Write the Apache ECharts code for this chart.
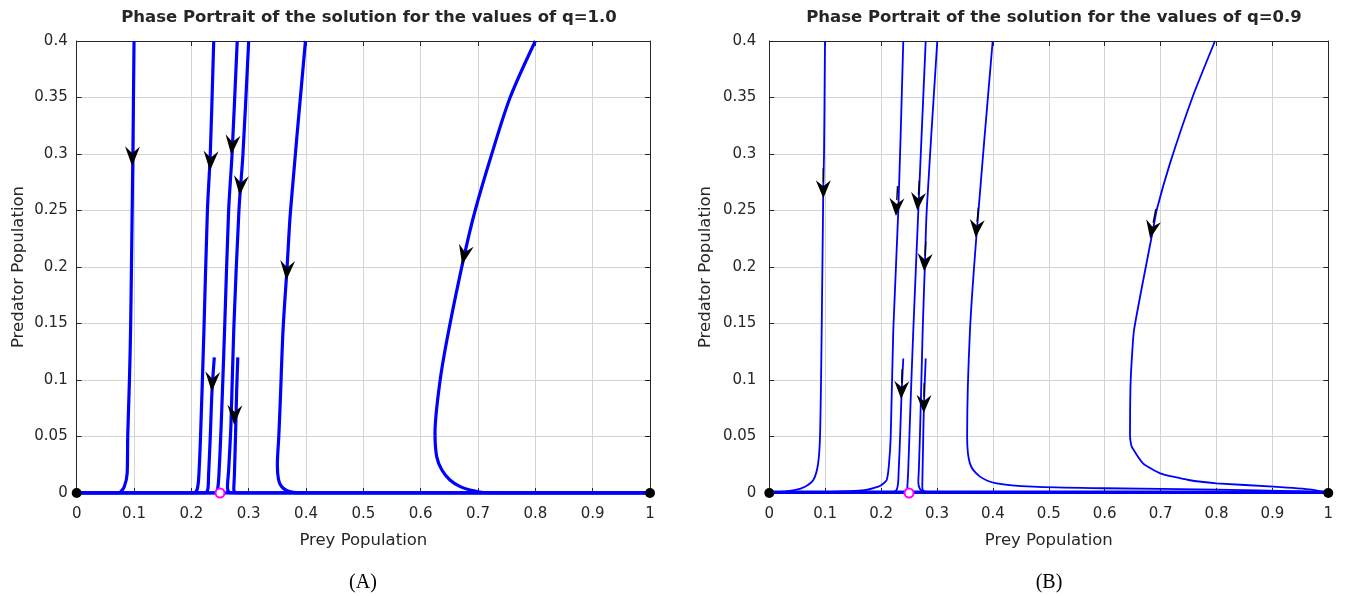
<!DOCTYPE html>
<html>
<head>
<meta charset="utf-8">
<script src="https://cdn.jsdelivr.net/npm/echarts@6/dist/echarts.min.js"></script>
<style>
html,body{margin:0;padding:0;background:#fff;}
#chart{width:1346px;height:596px;}
</style>
</head>
<body>
<div id="chart"></div>
<script>
// ---------- tick labels ----------
const xTicks = ['0','0.1','0.2','0.3','0.4','0.5','0.6','0.7','0.8','0.9','1'];
const yTicks = ['0','0.05','0.1','0.15','0.2','0.25','0.3','0.35','0.4'];
const titles = ['Phase Portrait of the solution for the values of q=1.0',
                'Phase Portrait of the solution for the values of q=0.9'];
const panelLabels = ['(A)', '(B)'];

// ---------- panel A (q = 1.0) trajectories [prey, predator] ----------
const a_traj1 = [[0.100,0.40],[0.098,0.30],[0.096,0.22],[0.094,0.145],[0.092,0.10],[0.089,0.05],[0.088,0.017],[0.083,0.0056],[0.077,0.0012],[0.072,0],[0,0]];
const a_traj2 = [[0.239,0.40],[0.233,0.30],[0.228,0.25],[0.222,0.145],[0.216,0.05],[0.213,0.015],[0.211,0.005],[0.208,0.001],[0.203,0],[0,0]];
const a_traj3 = [[0.240,0.12],[0.236,0.09],[0.233,0.05],[0.230,0.015],[0.229,0.004],[0.226,0.0005],[0.220,0],[0,0]];
const a_traj4 = [[0.280,0.40],[0.271,0.30],[0.265,0.25],[0.258,0.145],[0.252,0.06],[0.248,0.015],[0.246,0.004],[0.244,0.0005],[0.240,0],[0,0]];
const a_traj5 = [[0.300,0.40],[0.290,0.30],[0.283,0.25],[0.274,0.145],[0.269,0.06],[0.265,0.02],[0.263,0.005],[0.265,0.001],[0.272,0],[1,0]];
const a_traj6 = [[0.281,0.12],[0.279,0.09],[0.277,0.05],[0.275,0.015],[0.274,0.003],[0.276,0.0005],[0.280,0],[1,0]];
const a_traj7 = [[0.399,0.40],[0.373,0.25],[0.367,0.20],[0.360,0.145],[0.355,0.08],[0.3525,0.05],[0.350,0.025],[0.352,0.012],[0.357,0.006],[0.366,0.0022],[0.378,0.0005],[0.400,0],[1,0]];
const a_traj8 = [[0.800,0.40],[0.756,0.35],[0.724,0.30],[0.695,0.25],[0.676,0.21],[0.649,0.144],[0.634,0.10],[0.625,0.053],[0.628,0.032],[0.637,0.0204],[0.651,0.0115],[0.669,0.0056],[0.686,0.0027],[0.715,0.0003],[0.780,0],[1,0]];
const a_axisFlow = [[0,0],[1,0]];
// arrows: [prey, predator, tilt in degrees]
const a_arrows = [[0.097,0.298,-1],[0.2334,0.294,-3],[0.2712,0.308,-5],[0.2857,0.272,-5],[0.2364,0.0985,-3],[0.2753,0.069,-2],[0.3668,0.197,-4],[0.676,0.2106,-12]];

// ---------- panel B (q = 0.9) trajectories ----------
const b_traj1 = [[0.0996,0.40],[0.0979,0.30],[0.0966,0.27],[0.0937,0.144],[0.0907,0.05],[0.0870,0.025],[0.0787,0.0115],[0.0639,0.0056],[0.0450,0.0025],[0.0245,0.0012],[0.010,0.0004],[0,0]];
const b_traj2 = [[0.2397,0.40],[0.2308,0.25],[0.2218,0.144],[0.2172,0.05],[0.2140,0.025],[0.2100,0.0115],[0.2030,0.008],[0.1950,0.0056],[0.1700,0.0025],[0.1000,0.0009],[0,0]];
const b_traj3 = [[0.2397,0.119],[0.2368,0.09],[0.2340,0.05],[0.2315,0.02],[0.2297,0.006],[0.2250,0.0015],[0.200,0.0005],[0,0]];
const b_traj4 = [[0.2798,0.40],[0.2666,0.25],[0.2576,0.144],[0.2520,0.07],[0.2485,0.02],[0.2469,0.005],[0.2460,0]];
const b_traj5 = [[0.3005,0.40],[0.2816,0.25],[0.2785,0.204],[0.2744,0.144],[0.2700,0.06],[0.2675,0.02],[0.2666,0.01],[0.2690,0.004],[0.2755,0.0015],[0.300,0.0008],[0.500,0.0003],[1,0]];
const b_traj6 = [[0.2798,0.119],[0.2767,0.079],[0.2750,0.04],[0.2740,0.015],[0.2737,0.005],[0.2760,0.0015],[0.290,0.0006],[1,0]];
const b_traj7 = [[0.3996,0.40],[0.3716,0.234],[0.3590,0.144],[0.3539,0.05],[0.3590,0.026],[0.3770,0.0145],[0.4068,0.0086],[0.4718,0.0056],[0.600,0.0042],[0.800,0.003],[0.950,0.0015],[1,0]];
const b_traj8 = [[0.7973,0.40],[0.7585,0.3522],[0.7168,0.2917],[0.6930,0.2504],[0.6864,0.233],[0.6524,0.144],[0.6465,0.10],[0.6453,0.05],[0.6483,0.041],[0.6690,0.026],[0.6990,0.0174],[0.7500,0.0115],[0.8000,0.0086],[0.9016,0.0056],[0.9700,0.003],[1,0]];
const b_axisFlow = [[0,0.0008],[1,0.0008]];
const b_arrows = [[0.0966,0.2688,0],[0.2280,0.253,-3],[0.2368,0.0912,-2],[0.2666,0.258,-4],[0.2785,0.204,-3],[0.2767,0.0788,-1],[0.3716,0.234,-5],[0.6864,0.233,-11]];

// ---------- equilibria ----------
const equilibriaStable = [[0,0],[1,0]];
const equilibriaOther = [[0.25,0]];

const FONT = 'DejaVu Sans';
const AX = '#262626';
const GRID = '#d4d4d4';
const BLUE = '#0000ff';

function bottomX(grid, name){
  return {type:'value', gridIndex:grid, min:0, max:1, interval:0.1, position:'bottom',
    axisLine:{show:true, onZero:false, lineStyle:{color:AX, width:1}},
    axisTick:{show:true, inside:true, length:5, lineStyle:{color:AX}},
    axisLabel:{formatter:v=>xTicks[Math.round(v*10)], color:AX, fontSize:15, fontFamily:FONT, margin:14},
    splitLine:{show:true, lineStyle:{color:GRID, width:1}},
    name:name, nameLocation:'middle', nameGap:39,
    nameTextStyle:{color:AX, fontSize:16.5, fontFamily:FONT}};
}
function topX(grid){
  return {type:'value', gridIndex:grid, min:0, max:1, interval:0.1, position:'top',
    axisLine:{show:true, onZero:false, lineStyle:{color:AX, width:1}},
    axisTick:{show:true, inside:true, length:5, lineStyle:{color:AX}},
    axisLabel:{show:false}, splitLine:{show:false}};
}
function leftY(grid, name, margin, gap){
  return {type:'value', gridIndex:grid, min:0, max:0.4, interval:0.05, position:'left',
    axisLine:{show:true, onZero:false, lineStyle:{color:AX, width:1}},
    axisTick:{show:true, inside:true, length:5, lineStyle:{color:AX}},
    axisLabel:{formatter:v=>yTicks[Math.round(v*20)], color:AX, fontSize:15, fontFamily:FONT, margin:margin},
    splitLine:{show:true, lineStyle:{color:GRID, width:1}},
    name:name, nameLocation:'middle', nameGap:gap,
    nameTextStyle:{color:AX, fontSize:16.5, fontFamily:FONT}};
}
function rightY(grid){
  return {type:'value', gridIndex:grid, min:0, max:0.4, interval:0.05, position:'right',
    axisLine:{show:true, onZero:false, lineStyle:{color:AX, width:1}},
    axisTick:{show:true, inside:true, length:5, lineStyle:{color:AX}},
    axisLabel:{show:false}, splitLine:{show:false}};
}

const arrowHead = 'path://M0,20 L-7.5,0 L0,7 L7.5,0 Z';
const arrowStem = 'path://M-0.7,-12 L0.7,-12 L0.7,2 L-0.7,2 Z M0,18 L-7.5,0 L0,6 L7.5,0 Z';

function traj(data, xi, yi, w, sm){
  return {type:'line', xAxisIndex:xi, yAxisIndex:yi, data:data, showSymbol:false, symbol:'none',
    smooth:sm, lineStyle:{color:BLUE, width:w}, itemStyle:{color:BLUE}, silent:true, z:2, animation:false};
}
function arrows(data, xi, yi, sym, size, off){
  return {type:'scatter', xAxisIndex:xi, yAxisIndex:yi, silent:true, z:5, animation:false, clip:false,
    data:data.map(d=>({value:[d[0],d[1]], symbolRotate:d[2]})),
    symbol:sym, symbolSize:size, symbolOffset:off, itemStyle:{color:'#000', opacity:1}};
}
function marks(xi, yi){
  return [
    {type:'scatter', xAxisIndex:xi, yAxisIndex:yi, data:equilibriaStable, symbol:'circle', symbolSize:10,
      itemStyle:{color:'#000', opacity:1}, z:6, clip:false, silent:true, animation:false},
    {type:'scatter', xAxisIndex:xi, yAxisIndex:yi, data:equilibriaOther, symbol:'emptyCircle', symbolSize:9,
      itemStyle:{color:'#ff00ff', borderColor:'#ff00ff', borderWidth:1.2, opacity:1}, z:6, clip:false, silent:true, animation:false}
  ];
}

const aTraj = [a_traj1,a_traj2,a_traj3,a_traj4,a_traj5,a_traj6,a_traj7,a_traj8];
const bTraj = [b_traj1,b_traj2,b_traj3,b_traj4,b_traj5,b_traj6,b_traj7];

const series = [];
aTraj.forEach(d=>series.push(traj(d,0,0,3.2,0.3)));
series.push(traj(a_axisFlow,0,0,3.4,false));
bTraj.forEach(d=>series.push(traj(d,2,2,1.8,0.3)));
series.push(traj(b_traj8,2,2,1.8,0.15));
series.push(traj(b_axisFlow,2,2,3.2,false));
series.push(arrows(a_arrows,0,0,arrowHead,[15,20],[0,0]));
series.push(arrows(b_arrows,2,2,arrowStem,[15,30],[0,-6]));
series.push(...marks(0,0));
series.push(...marks(2,2));

const option = {
  backgroundColor:'#fff',
  animation:false,
  title:[
    {text:titles[0], left:364, top:4, textAlign:'center',
      textStyle:{fontFamily:FONT, fontWeight:'bold', fontSize:16.5, color:AX}},
    {text:titles[1], left:1049, top:4, textAlign:'center',
      textStyle:{fontFamily:FONT, fontWeight:'bold', fontSize:16.5, color:AX}}
  ],
  grid:[
    {left:76.7, right:696, top:41, bottom:103},
    {left:769.3, right:17.7, top:41, bottom:103}
  ],
  xAxis:[bottomX(0,'Prey Population'), topX(0), bottomX(1,'Prey Population'), topX(1)],
  yAxis:[leftY(0,'Predator Population',9,49), rightY(0), leftY(1,'Predator Population',13,55), rightY(1)],
  graphic:[
    {type:'text', style:{text:panelLabels[0], x:363, y:583, textAlign:'center', textVerticalAlign:'middle',
      font:'20px "Liberation Serif"', fill:'#000'}},
    {type:'text', style:{text:panelLabels[1], x:1049, y:583, textAlign:'center', textVerticalAlign:'middle',
      font:'20px "Liberation Serif"', fill:'#000'}}
  ],
  series:series
};

const chart = echarts.init(document.getElementById('chart'), null, {renderer:'canvas'});
chart.setOption(option);
</script>
</body>
</html>
